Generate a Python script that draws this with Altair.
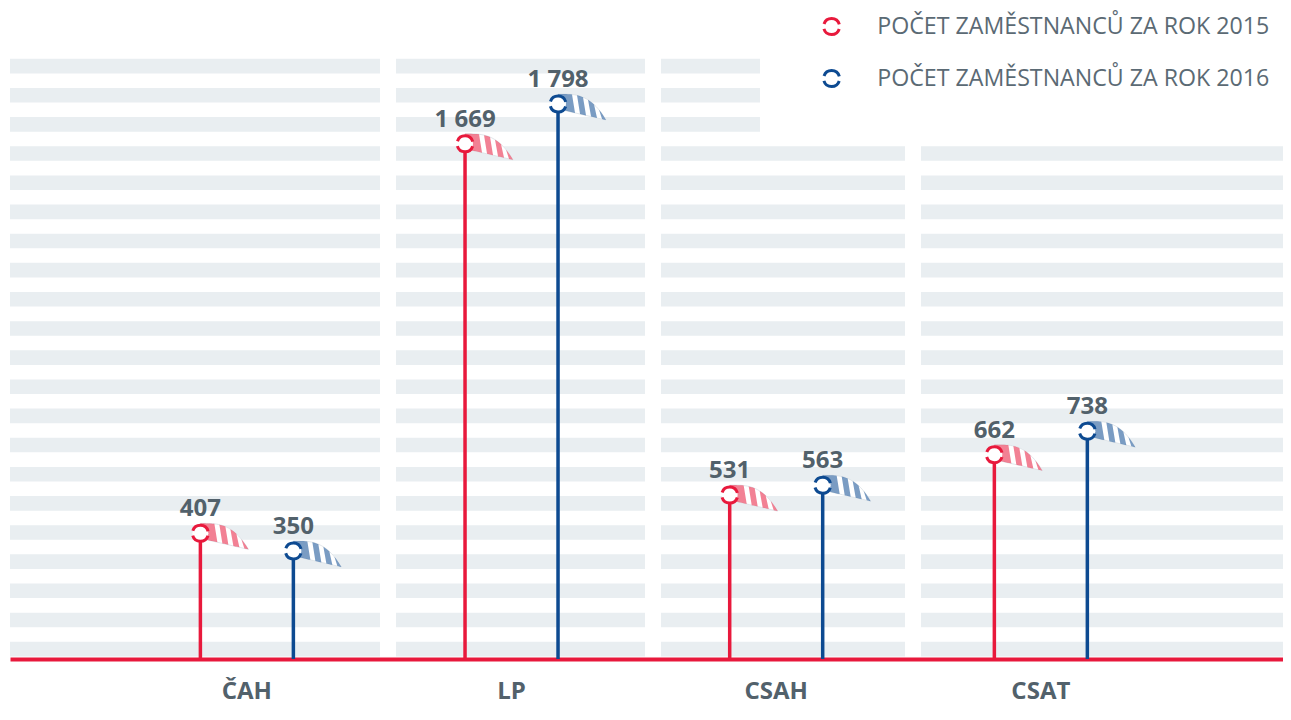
import altair as alt
import pandas as pd

# ---------------- data ----------------
categories = ["ČAH", "LP", "CSAH", "CSAT"]
years = ["2015", "2016"]
values_2015 = [407, 1669, 531, 662]
values_2016 = [350, 1798, 563, 738]
series_labels = ["POČET ZAMĚSTNANCŮ ZA ROK 2015", "POČET ZAMĚSTNANCŮ ZA ROK 2016"]

# ---------------- style ----------------
RED = "#e8193c"
BLUE = "#0d4a91"
TEXT = "#52616b"
LEGEND_TEXT = "#5b6a74"
STRIPE = "#e9eef1"
FONT = "Open Sans"

W, H = 1273, 651
Y_MAX = 2109  # top of value scale

# background stripe layout (decoration): row index and panel extents
stripe_rows = list(range(21))
panels_full = [(0, 370), (386, 635), (651, 895), (911, W)]
panels_top = [(0, 370), (386, 635), (651, 750)]

rows = []
for cat, v15, v16 in zip(categories, values_2015, values_2016):
    for yr, lab, v in zip(years, series_labels, (v15, v16)):
        rows.append(dict(cat=cat, year=yr, series=lab, value=v,
                         label=f"{v:,}".replace(",", " ")))
df = pd.DataFrame(rows)

srows = []
for j in stripe_rows:
    for (a, b) in (panels_top if j >= 18 else panels_full):
        srows.append(dict(x0=a, x1=b, y0=j + 0.09, y1=j + 0.59))
sdf = pd.DataFrame(srows)


# ---------------- windsock flag shapes (pixel units, size=4 -> scale 1) ----------------
def top(x):
    return -10 + 26 * (max(x - 2, 0) / 46) ** 3


def bot(x):
    return 5 + 11 * x / 48


def fmt(p):
    return f"{p[0]:.2f},{p[1]:.2f}"


def poly(points):
    return "M" + "L".join(fmt(p) for p in points) + "Z"


outline_pts = [(x, top(x)) for x in range(0, 49, 2)] + [(x, bot(x)) for x in range(48, -1, -4)]
flag_outline = poly(outline_pts)

stripe_ranges = [(0, 14), (19, 25), (30, 36), (41, 48)]
slant = 3
parts = []
for x0, x1 in stripe_ranges:
    n = max(2, int((x1 - x0) / 2))
    tp = [(x0 + (x1 - x0) * k / n, top(x0 + (x1 - x0) * k / n)) for k in range(n + 1)]
    b1 = min(x1 + slant, 48)
    b0 = min(x0 + slant, 48)
    bp = [(b1 + (b0 - b1) * k / n, bot(b1 + (b0 - b1) * k / n)) for k in range(n + 1)]
    parts.append(poly(tp + bp))
flag_stripes = "".join(parts)

# ---------------- scales ----------------
x_scale = alt.Scale(domain=categories, paddingInner=0, paddingOuter=0.405, align=0.4877)
xo_scale = alt.Scale(domain=years, paddingInner=0, paddingOuter=0.423)
y_scale = alt.Scale(domain=[0, Y_MAX], nice=False, zero=True)
color_scale = alt.Scale(domain=series_labels, range=[RED, BLUE])
year_color = alt.Scale(domain=years, range=[RED, BLUE])

base = alt.Chart(df)
X = alt.X("cat:N", scale=x_scale, sort=categories,
          axis=alt.Axis(title=None, domainColor=RED, domainWidth=4, domainCap="butt",
                        ticks=False, grid=False, labelAngle=0, labelFont=FONT,
                        labelFontWeight="bold", labelFontSize=24, labelColor=TEXT,
                        labelPadding=39, labelBaseline="alphabetic"))
XO = alt.XOffset("year:N", scale=xo_scale, sort=years)
Y = alt.Y("value:Q", scale=y_scale, axis=None)

stems = base.mark_rule(strokeWidth=3.5).encode(
    x=X, xOffset=XO, y=Y, y2=alt.datum(0),
    stroke=alt.Stroke("year:N", scale=year_color, legend=None),
)

flag_bg = base.mark_point(shape=flag_outline, size=4, filled=True, fill="white",
                          stroke="#d9dfe4", strokeWidth=0.8, opacity=1).encode(
    x=X, xOffset=XO, y=Y)

flag_fg = base.mark_point(shape=flag_stripes, size=4, filled=True, opacity=0.55,
                          strokeWidth=0).encode(
    x=X, xOffset=XO, y=Y,
    fill=alt.Fill("year:N", scale=year_color, legend=None))

circ_len = 3.14159 * 16
dash = [circ_len / 2 - 5, 5]
circles = base.mark_point(shape="circle", size=256, filled=False, fill="white",
                          strokeWidth=3, strokeDash=dash,
                          strokeDashOffset=dash[0] + 2.5, opacity=1).encode(
    x=X, xOffset=XO, y=Y,
    color=alt.Color("series:N", scale=color_scale,
                    legend=alt.Legend(title=None, orient="none", legendX=810, legendY=7,
                                      symbolType="circle", symbolSize=256,
                                      symbolStrokeWidth=3, symbolFillColor="white",
                                      symbolDash=dash, symbolDashOffset=dash[0] + 2.5,
                                      labelFont=FONT, labelFontSize=23.2, labelFontWeight="normal",
                                      labelColor=LEGEND_TEXT, labelOffset=34, rowPadding=23,
                                      padding=0, labelLimit=600)),
)

labels = base.mark_text(dy=-17, baseline="alphabetic", align="center", font=FONT,
                        fontSize=24, fontWeight="bold", color=TEXT).encode(
    x=X, xOffset=XO, y=Y, text="label:N")

lolli = alt.layer(stems, flag_bg, flag_fg, circles, labels)

stripes = alt.Chart(sdf).mark_rect(color=STRIPE).encode(
    x=alt.X("x0:Q", scale=alt.Scale(domain=[0, W], nice=False, zero=False), axis=None),
    x2="x1:Q",
    y=alt.Y("y0:Q", scale=alt.Scale(domain=[0, H / 29.15], nice=False, zero=False), axis=None),
    y2="y1:Q",
)

chart = alt.layer(stripes, lolli).resolve_scale(x="independent", y="independent").properties(
    width=W, height=H,
    padding={"left": 2, "top": 0, "right": 0, "bottom": 47},
    autosize=alt.AutoSizeParams(type="none"),
).configure_view(stroke=None)

chart.save("out.html", embed_options={"renderer": "svg", "actions": False})
